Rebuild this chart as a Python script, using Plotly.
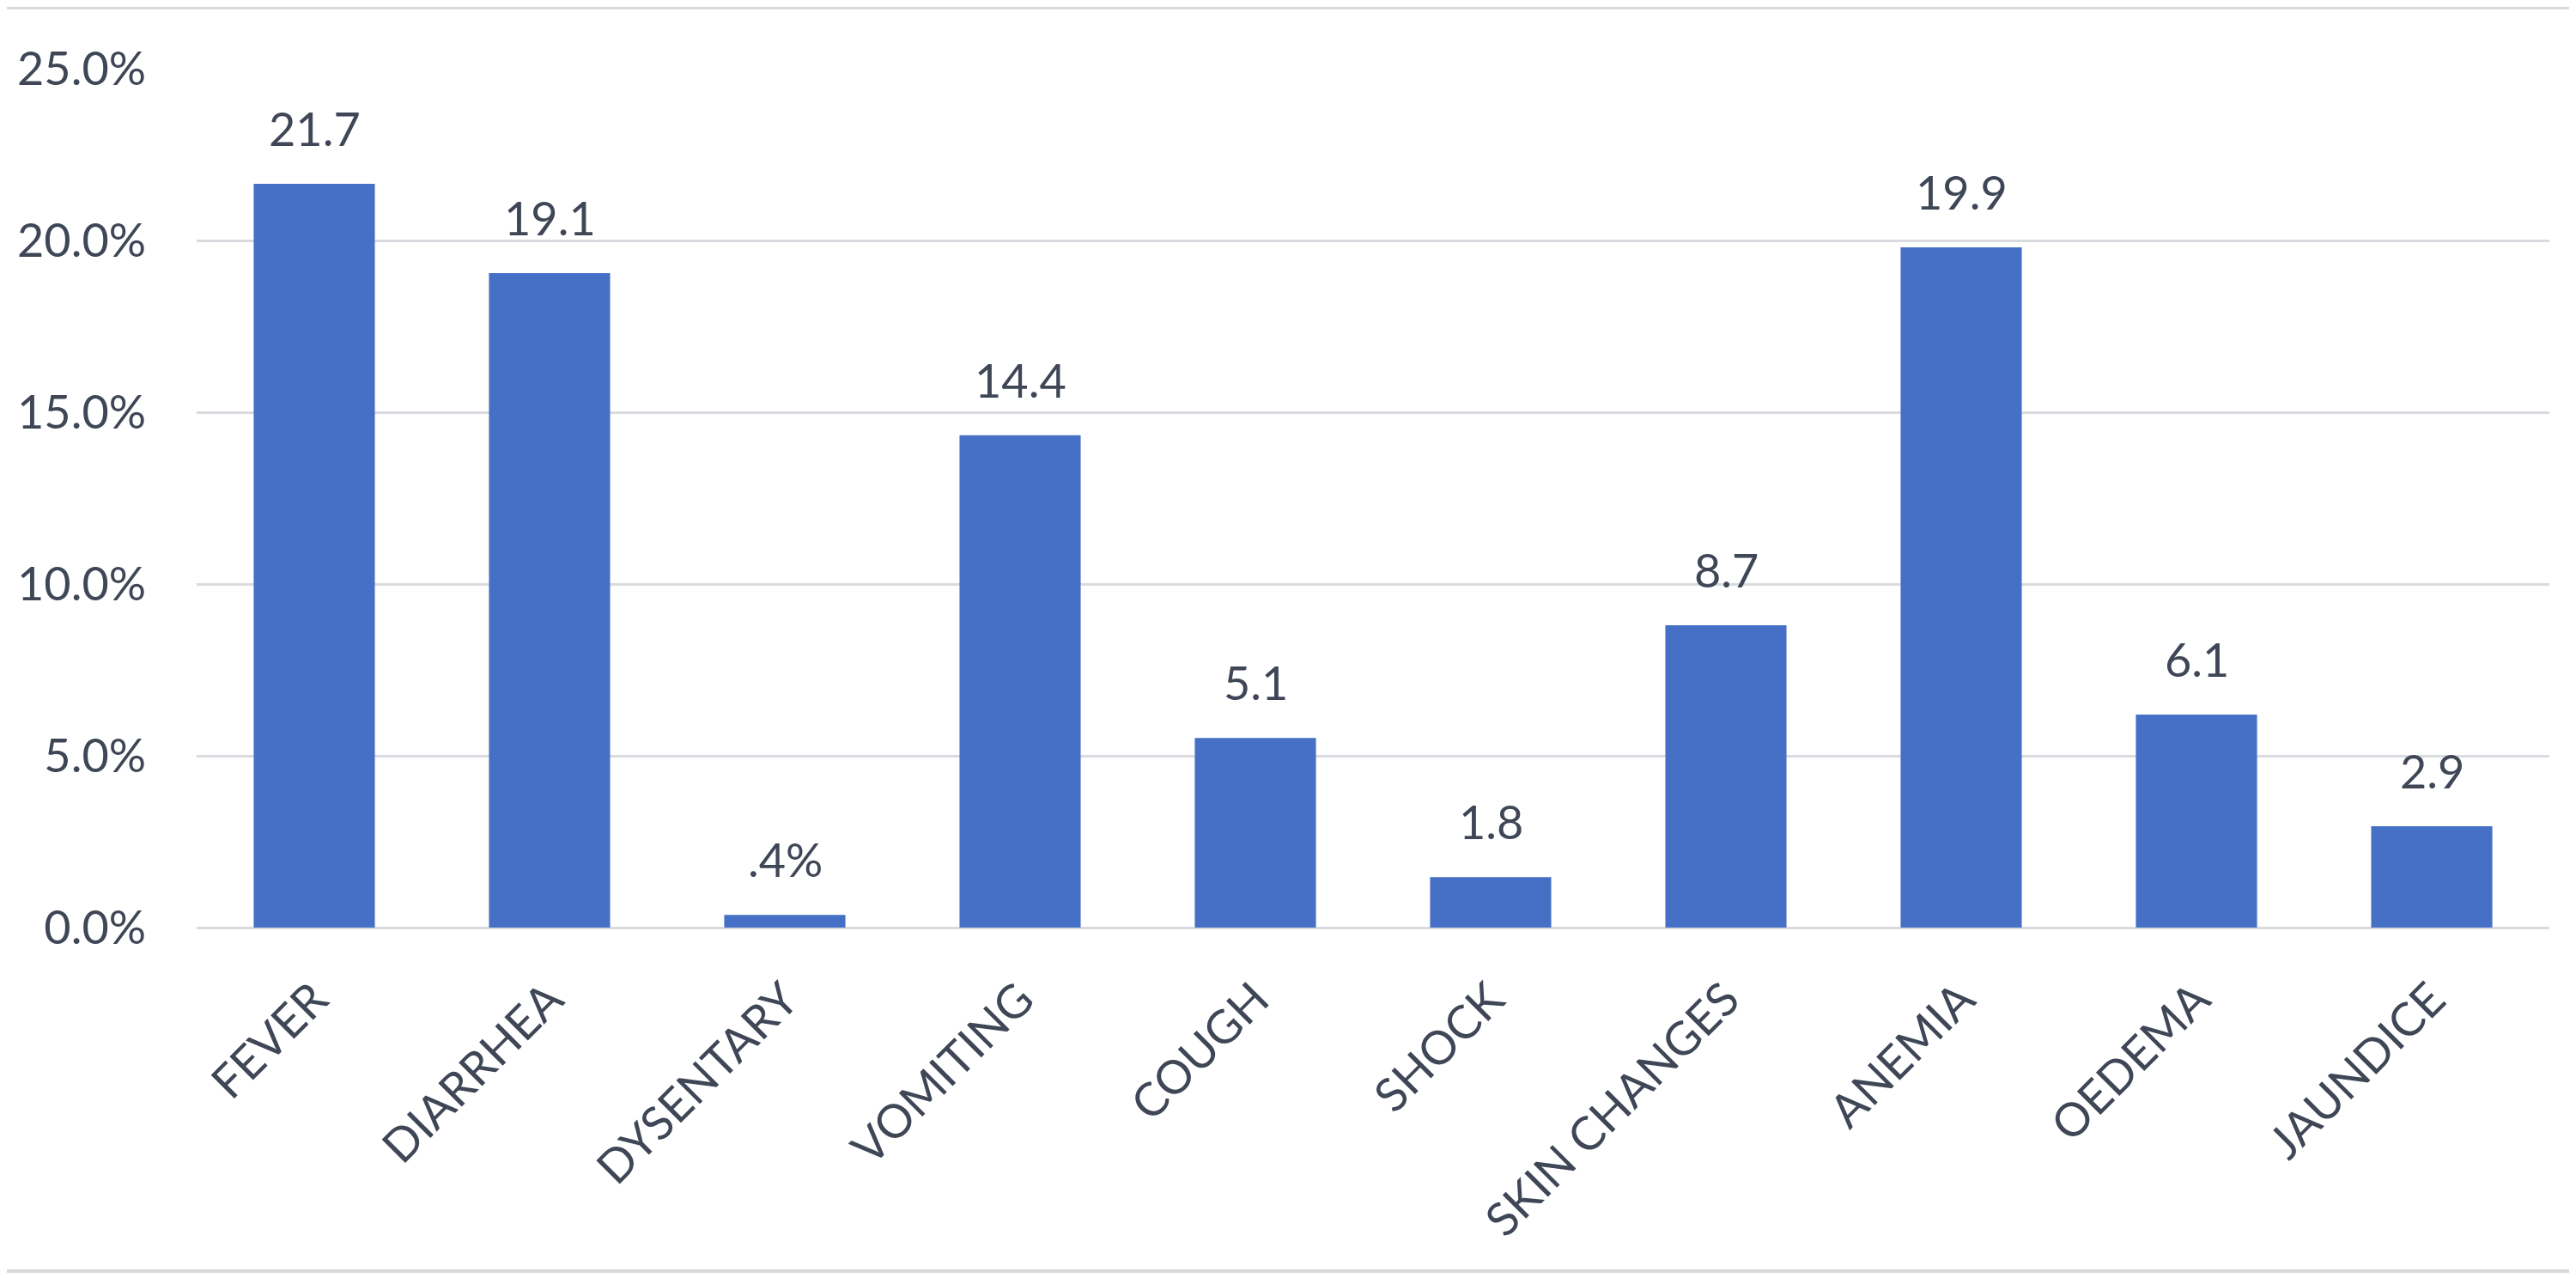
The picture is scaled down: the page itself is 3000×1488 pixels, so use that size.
import plotly.graph_objects as go

categories = ["FEVER", "DIARRHEA", "DYSENTARY", "VOMITING", "COUGH", "SHOCK",
              "SKIN CHANGES", "ANEMIA", "OEDEMA", "JAUNDICE"]
bar_values = [21.65, 19.05, 0.37, 14.33, 5.52, 1.47, 8.8, 19.8, 6.2, 2.95]
label_texts = ["21.7", "19.1", ".4%", "14.4", "5.1", "1.8", "8.7", "19.9", "6.1", "2.9"]
y_tick_values = [0, 5, 10, 15, 20, 25]
y_tick_labels = ["0.0%", "5.0%", "10.0%", "15.0%", "20.0%", "25.0%"]

FONT = "Lato"
TEXT_COLOR = "#3f4757"
GRID_COLOR = "#d9dbe1"

fig = go.Figure()
fig.add_trace(go.Bar(
    x=categories,
    y=bar_values,
    marker=dict(color="#4570c5", line=dict(width=0)),
    width=0.515,
    hoverinfo="x+y",
))

for cat, val, txt in zip(categories, bar_values, label_texts):
    fig.add_annotation(
        x=cat, y=val, text=txt, showarrow=False,
        yanchor="bottom", xanchor="center", yshift=30,
        font=dict(family=FONT, size=54, color=TEXT_COLOR),
    )

# chart frame lines (top and bottom)
for yp in [1.071, -0.4]:
    fig.add_shape(type="line", xref="paper", yref="paper",
                  x0=-0.085, x1=1.02, y0=yp, y1=yp,
                  line=dict(color="#d9d9d9", width=4))

fig.update_layout(
    width=3000, height=1488,
    margin=dict(l=218, r=39, t=72, b=416),
    paper_bgcolor="white", plot_bgcolor="white",
    showlegend=False,
    font=dict(family=FONT, size=54, color=TEXT_COLOR),
)
fig.update_yaxes(
    range=[0, 25],
    tickvals=y_tick_values, ticktext=y_tick_labels,
    showgrid=True, gridcolor=GRID_COLOR, gridwidth=3,
    zeroline=True, zerolinecolor=GRID_COLOR, zerolinewidth=3,
    showline=False, ticks="", ticklabelstandoff=58,
    tickfont=dict(family=FONT, size=54, color=TEXT_COLOR),
)
fig.update_xaxes(
    type="category",
    tickangle=-45,
    showgrid=False, showline=False, ticks="",
    ticklabelstandoff=40,
    tickfont=dict(family=FONT, size=54, color=TEXT_COLOR),
)

fig.write_html("out.html")
